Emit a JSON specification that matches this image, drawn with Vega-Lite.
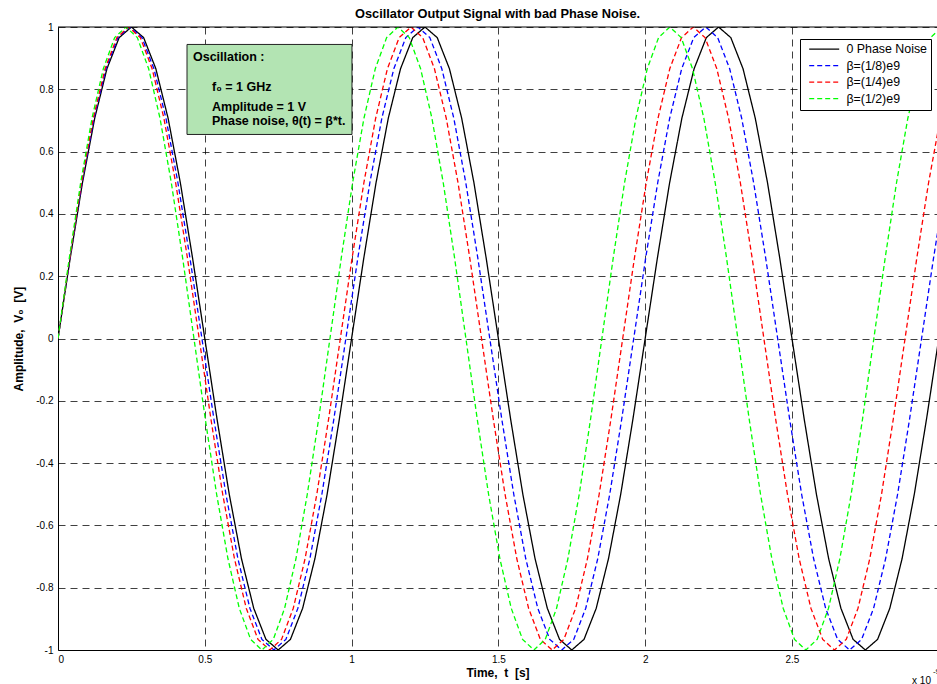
{
"$schema": "https://vega.github.io/schema/vega-lite/v6.json",
"width": 879, "height": 623,
"autosize": {"type": "none"},
"padding": {"left": 58, "top": 27, "right": 0, "bottom": 34},
"background": "white",
"title": {"text": "Oscillator Output Signal with bad Phase Noise.", "font": "Liberation Sans", "fontSize": 12.8, "fontWeight": "bold", "color": "#000", "anchor": "middle", "frame": "group", "baseline": "alphabetic", "offset": 10, "dy": 19},
"datasets": {
"curves": [
{"series":"0 Phase Noise","t":0,"v":0},{"series":"0 Phase Noise","t":0.0417,"v":0.2588},{"series":"0 Phase Noise","t":0.0833,"v":0.5},{"series":"0 Phase Noise","t":0.125,"v":0.7071},{"series":"0 Phase Noise","t":0.1667,"v":0.866},{"series":"0 Phase Noise","t":0.2083,"v":0.9659},{"series":"0 Phase Noise","t":0.25,"v":1},{"series":"0 Phase Noise","t":0.2917,"v":0.9659},{"series":"0 Phase Noise","t":0.3333,"v":0.866},{"series":"0 Phase Noise","t":0.375,"v":0.7071},{"series":"0 Phase Noise","t":0.4167,"v":0.5},{"series":"0 Phase Noise","t":0.4583,"v":0.2588},{"series":"0 Phase Noise","t":0.5,"v":0},{"series":"0 Phase Noise","t":0.5417,"v":-0.2588},{"series":"0 Phase Noise","t":0.5833,"v":-0.5},{"series":"0 Phase Noise","t":0.625,"v":-0.7071},{"series":"0 Phase Noise","t":0.6667,"v":-0.866},{"series":"0 Phase Noise","t":0.7083,"v":-0.9659},{"series":"0 Phase Noise","t":0.75,"v":-1},{"series":"0 Phase Noise","t":0.7917,"v":-0.9659},{"series":"0 Phase Noise","t":0.8333,"v":-0.866},{"series":"0 Phase Noise","t":0.875,"v":-0.7071},{"series":"0 Phase Noise","t":0.9167,"v":-0.5},{"series":"0 Phase Noise","t":0.9583,"v":-0.2588},
{"series":"0 Phase Noise","t":1,"v":0},{"series":"0 Phase Noise","t":1.0417,"v":0.2588},{"series":"0 Phase Noise","t":1.0833,"v":0.5},{"series":"0 Phase Noise","t":1.125,"v":0.7071},{"series":"0 Phase Noise","t":1.1667,"v":0.866},{"series":"0 Phase Noise","t":1.2083,"v":0.9659},{"series":"0 Phase Noise","t":1.25,"v":1},{"series":"0 Phase Noise","t":1.2917,"v":0.9659},{"series":"0 Phase Noise","t":1.3333,"v":0.866},{"series":"0 Phase Noise","t":1.375,"v":0.7071},{"series":"0 Phase Noise","t":1.4167,"v":0.5},{"series":"0 Phase Noise","t":1.4583,"v":0.2588},{"series":"0 Phase Noise","t":1.5,"v":0},{"series":"0 Phase Noise","t":1.5417,"v":-0.2588},{"series":"0 Phase Noise","t":1.5833,"v":-0.5},{"series":"0 Phase Noise","t":1.625,"v":-0.7071},{"series":"0 Phase Noise","t":1.6667,"v":-0.866},{"series":"0 Phase Noise","t":1.7083,"v":-0.9659},{"series":"0 Phase Noise","t":1.75,"v":-1},{"series":"0 Phase Noise","t":1.7917,"v":-0.9659},{"series":"0 Phase Noise","t":1.8333,"v":-0.866},{"series":"0 Phase Noise","t":1.875,"v":-0.7071},{"series":"0 Phase Noise","t":1.9167,"v":-0.5},{"series":"0 Phase Noise","t":1.9583,"v":-0.2588},
{"series":"0 Phase Noise","t":2,"v":0},{"series":"0 Phase Noise","t":2.0417,"v":0.2588},{"series":"0 Phase Noise","t":2.0833,"v":0.5},{"series":"0 Phase Noise","t":2.125,"v":0.7071},{"series":"0 Phase Noise","t":2.1667,"v":0.866},{"series":"0 Phase Noise","t":2.2083,"v":0.9659},{"series":"0 Phase Noise","t":2.25,"v":1},{"series":"0 Phase Noise","t":2.2917,"v":0.9659},{"series":"0 Phase Noise","t":2.3333,"v":0.866},{"series":"0 Phase Noise","t":2.375,"v":0.7071},{"series":"0 Phase Noise","t":2.4167,"v":0.5},{"series":"0 Phase Noise","t":2.4583,"v":0.2588},{"series":"0 Phase Noise","t":2.5,"v":0},{"series":"0 Phase Noise","t":2.5417,"v":-0.2588},{"series":"0 Phase Noise","t":2.5833,"v":-0.5},{"series":"0 Phase Noise","t":2.625,"v":-0.7071},{"series":"0 Phase Noise","t":2.6667,"v":-0.866},{"series":"0 Phase Noise","t":2.7083,"v":-0.9659},{"series":"0 Phase Noise","t":2.75,"v":-1},{"series":"0 Phase Noise","t":2.7917,"v":-0.9659},{"series":"0 Phase Noise","t":2.8333,"v":-0.866},{"series":"0 Phase Noise","t":2.875,"v":-0.7071},{"series":"0 Phase Noise","t":2.9167,"v":-0.5},{"series":"0 Phase Noise","t":2.9583,"v":-0.2588},{"series":"0 Phase Noise","t":3,"v":0},

{"series":"β=(1/8)e9","t":0,"v":0},{"series":"β=(1/8)e9","t":0.0409,"v":0.2588},{"series":"β=(1/8)e9","t":0.0817,"v":0.5},{"series":"β=(1/8)e9","t":0.1226,"v":0.7071},{"series":"β=(1/8)e9","t":0.1634,"v":0.866},{"series":"β=(1/8)e9","t":0.2043,"v":0.9659},{"series":"β=(1/8)e9","t":0.2451,"v":1},{"series":"β=(1/8)e9","t":0.286,"v":0.9659},{"series":"β=(1/8)e9","t":0.3268,"v":0.866},{"series":"β=(1/8)e9","t":0.3677,"v":0.7071},{"series":"β=(1/8)e9","t":0.4085,"v":0.5},{"series":"β=(1/8)e9","t":0.4494,"v":0.2588},{"series":"β=(1/8)e9","t":0.4902,"v":0},{"series":"β=(1/8)e9","t":0.5311,"v":-0.2588},{"series":"β=(1/8)e9","t":0.572,"v":-0.5},{"series":"β=(1/8)e9","t":0.6128,"v":-0.7071},{"series":"β=(1/8)e9","t":0.6537,"v":-0.866},{"series":"β=(1/8)e9","t":0.6945,"v":-0.9659},{"series":"β=(1/8)e9","t":0.7354,"v":-1},{"series":"β=(1/8)e9","t":0.7762,"v":-0.9659},{"series":"β=(1/8)e9","t":0.8171,"v":-0.866},{"series":"β=(1/8)e9","t":0.8579,"v":-0.7071},{"series":"β=(1/8)e9","t":0.8988,"v":-0.5},{"series":"β=(1/8)e9","t":0.9396,"v":-0.2588},
{"series":"β=(1/8)e9","t":0.9805,"v":0},{"series":"β=(1/8)e9","t":1.0213,"v":0.2588},{"series":"β=(1/8)e9","t":1.0622,"v":0.5},{"series":"β=(1/8)e9","t":1.1031,"v":0.7071},{"series":"β=(1/8)e9","t":1.1439,"v":0.866},{"series":"β=(1/8)e9","t":1.1848,"v":0.9659},{"series":"β=(1/8)e9","t":1.2256,"v":1},{"series":"β=(1/8)e9","t":1.2665,"v":0.9659},{"series":"β=(1/8)e9","t":1.3073,"v":0.866},{"series":"β=(1/8)e9","t":1.3482,"v":0.7071},{"series":"β=(1/8)e9","t":1.389,"v":0.5},{"series":"β=(1/8)e9","t":1.4299,"v":0.2588},{"series":"β=(1/8)e9","t":1.4707,"v":0},{"series":"β=(1/8)e9","t":1.5116,"v":-0.2588},{"series":"β=(1/8)e9","t":1.5524,"v":-0.5},{"series":"β=(1/8)e9","t":1.5933,"v":-0.7071},{"series":"β=(1/8)e9","t":1.6342,"v":-0.866},{"series":"β=(1/8)e9","t":1.675,"v":-0.9659},{"series":"β=(1/8)e9","t":1.7159,"v":-1},{"series":"β=(1/8)e9","t":1.7567,"v":-0.9659},{"series":"β=(1/8)e9","t":1.7976,"v":-0.866},{"series":"β=(1/8)e9","t":1.8384,"v":-0.7071},{"series":"β=(1/8)e9","t":1.8793,"v":-0.5},{"series":"β=(1/8)e9","t":1.9201,"v":-0.2588},
{"series":"β=(1/8)e9","t":1.961,"v":0},{"series":"β=(1/8)e9","t":2.0018,"v":0.2588},{"series":"β=(1/8)e9","t":2.0427,"v":0.5},{"series":"β=(1/8)e9","t":2.0835,"v":0.7071},{"series":"β=(1/8)e9","t":2.1244,"v":0.866},{"series":"β=(1/8)e9","t":2.1653,"v":0.9659},{"series":"β=(1/8)e9","t":2.2061,"v":1},{"series":"β=(1/8)e9","t":2.247,"v":0.9659},{"series":"β=(1/8)e9","t":2.2878,"v":0.866},{"series":"β=(1/8)e9","t":2.3287,"v":0.7071},{"series":"β=(1/8)e9","t":2.3695,"v":0.5},{"series":"β=(1/8)e9","t":2.4104,"v":0.2588},{"series":"β=(1/8)e9","t":2.4512,"v":0},{"series":"β=(1/8)e9","t":2.4921,"v":-0.2588},{"series":"β=(1/8)e9","t":2.5329,"v":-0.5},{"series":"β=(1/8)e9","t":2.5738,"v":-0.7071},{"series":"β=(1/8)e9","t":2.6146,"v":-0.866},{"series":"β=(1/8)e9","t":2.6555,"v":-0.9659},{"series":"β=(1/8)e9","t":2.6964,"v":-1},{"series":"β=(1/8)e9","t":2.7372,"v":-0.9659},{"series":"β=(1/8)e9","t":2.7781,"v":-0.866},{"series":"β=(1/8)e9","t":2.8189,"v":-0.7071},{"series":"β=(1/8)e9","t":2.8598,"v":-0.5},{"series":"β=(1/8)e9","t":2.9006,"v":-0.2588},{"series":"β=(1/8)e9","t":2.9415,"v":0},{"series":"β=(1/8)e9","t":2.9823,"v":0.2588},{"series":"β=(1/8)e9","t":3.0232,"v":0.5},

{"series":"β=(1/4)e9","t":0,"v":0},{"series":"β=(1/4)e9","t":0.0401,"v":0.2588},{"series":"β=(1/4)e9","t":0.0801,"v":0.5},{"series":"β=(1/4)e9","t":0.1202,"v":0.7071},{"series":"β=(1/4)e9","t":0.1603,"v":0.866},{"series":"β=(1/4)e9","t":0.2004,"v":0.9659},{"series":"β=(1/4)e9","t":0.2404,"v":1},{"series":"β=(1/4)e9","t":0.2805,"v":0.9659},{"series":"β=(1/4)e9","t":0.3206,"v":0.866},{"series":"β=(1/4)e9","t":0.3607,"v":0.7071},{"series":"β=(1/4)e9","t":0.4007,"v":0.5},{"series":"β=(1/4)e9","t":0.4408,"v":0.2588},{"series":"β=(1/4)e9","t":0.4809,"v":0},{"series":"β=(1/4)e9","t":0.5209,"v":-0.2588},{"series":"β=(1/4)e9","t":0.561,"v":-0.5},{"series":"β=(1/4)e9","t":0.6011,"v":-0.7071},{"series":"β=(1/4)e9","t":0.6412,"v":-0.866},{"series":"β=(1/4)e9","t":0.6812,"v":-0.9659},{"series":"β=(1/4)e9","t":0.7213,"v":-1},{"series":"β=(1/4)e9","t":0.7614,"v":-0.9659},{"series":"β=(1/4)e9","t":0.8014,"v":-0.866},{"series":"β=(1/4)e9","t":0.8415,"v":-0.7071},{"series":"β=(1/4)e9","t":0.8816,"v":-0.5},{"series":"β=(1/4)e9","t":0.9217,"v":-0.2588},
{"series":"β=(1/4)e9","t":0.9617,"v":0},{"series":"β=(1/4)e9","t":1.0018,"v":0.2588},{"series":"β=(1/4)e9","t":1.0419,"v":0.5},{"series":"β=(1/4)e9","t":1.082,"v":0.7071},{"series":"β=(1/4)e9","t":1.122,"v":0.866},{"series":"β=(1/4)e9","t":1.1621,"v":0.9659},{"series":"β=(1/4)e9","t":1.2022,"v":1},{"series":"β=(1/4)e9","t":1.2422,"v":0.9659},{"series":"β=(1/4)e9","t":1.2823,"v":0.866},{"series":"β=(1/4)e9","t":1.3224,"v":0.7071},{"series":"β=(1/4)e9","t":1.3625,"v":0.5},{"series":"β=(1/4)e9","t":1.4025,"v":0.2588},{"series":"β=(1/4)e9","t":1.4426,"v":0},{"series":"β=(1/4)e9","t":1.4827,"v":-0.2588},{"series":"β=(1/4)e9","t":1.5227,"v":-0.5},{"series":"β=(1/4)e9","t":1.5628,"v":-0.7071},{"series":"β=(1/4)e9","t":1.6029,"v":-0.866},{"series":"β=(1/4)e9","t":1.643,"v":-0.9659},{"series":"β=(1/4)e9","t":1.683,"v":-1},{"series":"β=(1/4)e9","t":1.7231,"v":-0.9659},{"series":"β=(1/4)e9","t":1.7632,"v":-0.866},{"series":"β=(1/4)e9","t":1.8033,"v":-0.7071},{"series":"β=(1/4)e9","t":1.8433,"v":-0.5},{"series":"β=(1/4)e9","t":1.8834,"v":-0.2588},
{"series":"β=(1/4)e9","t":1.9235,"v":0},{"series":"β=(1/4)e9","t":1.9635,"v":0.2588},{"series":"β=(1/4)e9","t":2.0036,"v":0.5},{"series":"β=(1/4)e9","t":2.0437,"v":0.7071},{"series":"β=(1/4)e9","t":2.0838,"v":0.866},{"series":"β=(1/4)e9","t":2.1238,"v":0.9659},{"series":"β=(1/4)e9","t":2.1639,"v":1},{"series":"β=(1/4)e9","t":2.204,"v":0.9659},{"series":"β=(1/4)e9","t":2.244,"v":0.866},{"series":"β=(1/4)e9","t":2.2841,"v":0.7071},{"series":"β=(1/4)e9","t":2.3242,"v":0.5},{"series":"β=(1/4)e9","t":2.3643,"v":0.2588},{"series":"β=(1/4)e9","t":2.4043,"v":0},{"series":"β=(1/4)e9","t":2.4444,"v":-0.2588},{"series":"β=(1/4)e9","t":2.4845,"v":-0.5},{"series":"β=(1/4)e9","t":2.5246,"v":-0.7071},{"series":"β=(1/4)e9","t":2.5646,"v":-0.866},{"series":"β=(1/4)e9","t":2.6047,"v":-0.9659},{"series":"β=(1/4)e9","t":2.6448,"v":-1},{"series":"β=(1/4)e9","t":2.6848,"v":-0.9659},{"series":"β=(1/4)e9","t":2.7249,"v":-0.866},{"series":"β=(1/4)e9","t":2.765,"v":-0.7071},{"series":"β=(1/4)e9","t":2.8051,"v":-0.5},{"series":"β=(1/4)e9","t":2.8451,"v":-0.2588},{"series":"β=(1/4)e9","t":2.8852,"v":0},{"series":"β=(1/4)e9","t":2.9253,"v":0.2588},{"series":"β=(1/4)e9","t":2.9653,"v":0.5},{"series":"β=(1/4)e9","t":3.0054,"v":0.7071},

{"series":"β=(1/2)e9","t":0,"v":0},{"series":"β=(1/2)e9","t":0.0386,"v":0.2588},{"series":"β=(1/2)e9","t":0.0772,"v":0.5},{"series":"β=(1/2)e9","t":0.1158,"v":0.7071},{"series":"β=(1/2)e9","t":0.1544,"v":0.866},{"series":"β=(1/2)e9","t":0.193,"v":0.9659},{"series":"β=(1/2)e9","t":0.2316,"v":1},{"series":"β=(1/2)e9","t":0.2702,"v":0.9659},{"series":"β=(1/2)e9","t":0.3088,"v":0.866},{"series":"β=(1/2)e9","t":0.3474,"v":0.7071},{"series":"β=(1/2)e9","t":0.386,"v":0.5},{"series":"β=(1/2)e9","t":0.4245,"v":0.2588},{"series":"β=(1/2)e9","t":0.4631,"v":0},{"series":"β=(1/2)e9","t":0.5017,"v":-0.2588},{"series":"β=(1/2)e9","t":0.5403,"v":-0.5},{"series":"β=(1/2)e9","t":0.5789,"v":-0.7071},{"series":"β=(1/2)e9","t":0.6175,"v":-0.866},{"series":"β=(1/2)e9","t":0.6561,"v":-0.9659},{"series":"β=(1/2)e9","t":0.6947,"v":-1},{"series":"β=(1/2)e9","t":0.7333,"v":-0.9659},{"series":"β=(1/2)e9","t":0.7719,"v":-0.866},{"series":"β=(1/2)e9","t":0.8105,"v":-0.7071},{"series":"β=(1/2)e9","t":0.8491,"v":-0.5},{"series":"β=(1/2)e9","t":0.8877,"v":-0.2588},
{"series":"β=(1/2)e9","t":0.9263,"v":0},{"series":"β=(1/2)e9","t":0.9649,"v":0.2588},{"series":"β=(1/2)e9","t":1.0035,"v":0.5},{"series":"β=(1/2)e9","t":1.0421,"v":0.7071},{"series":"β=(1/2)e9","t":1.0807,"v":0.866},{"series":"β=(1/2)e9","t":1.1193,"v":0.9659},{"series":"β=(1/2)e9","t":1.1579,"v":1},{"series":"β=(1/2)e9","t":1.1965,"v":0.9659},{"series":"β=(1/2)e9","t":1.2351,"v":0.866},{"series":"β=(1/2)e9","t":1.2736,"v":0.7071},{"series":"β=(1/2)e9","t":1.3122,"v":0.5},{"series":"β=(1/2)e9","t":1.3508,"v":0.2588},{"series":"β=(1/2)e9","t":1.3894,"v":0},{"series":"β=(1/2)e9","t":1.428,"v":-0.2588},{"series":"β=(1/2)e9","t":1.4666,"v":-0.5},{"series":"β=(1/2)e9","t":1.5052,"v":-0.7071},{"series":"β=(1/2)e9","t":1.5438,"v":-0.866},{"series":"β=(1/2)e9","t":1.5824,"v":-0.9659},{"series":"β=(1/2)e9","t":1.621,"v":-1},{"series":"β=(1/2)e9","t":1.6596,"v":-0.9659},{"series":"β=(1/2)e9","t":1.6982,"v":-0.866},{"series":"β=(1/2)e9","t":1.7368,"v":-0.7071},{"series":"β=(1/2)e9","t":1.7754,"v":-0.5},{"series":"β=(1/2)e9","t":1.814,"v":-0.2588},
{"series":"β=(1/2)e9","t":1.8526,"v":0},{"series":"β=(1/2)e9","t":1.8912,"v":0.2588},{"series":"β=(1/2)e9","t":1.9298,"v":0.5},{"series":"β=(1/2)e9","t":1.9684,"v":0.7071},{"series":"β=(1/2)e9","t":2.007,"v":0.866},{"series":"β=(1/2)e9","t":2.0456,"v":0.9659},{"series":"β=(1/2)e9","t":2.0841,"v":1},{"series":"β=(1/2)e9","t":2.1227,"v":0.9659},{"series":"β=(1/2)e9","t":2.1613,"v":0.866},{"series":"β=(1/2)e9","t":2.1999,"v":0.7071},{"series":"β=(1/2)e9","t":2.2385,"v":0.5},{"series":"β=(1/2)e9","t":2.2771,"v":0.2588},{"series":"β=(1/2)e9","t":2.3157,"v":0},{"series":"β=(1/2)e9","t":2.3543,"v":-0.2588},{"series":"β=(1/2)e9","t":2.3929,"v":-0.5},{"series":"β=(1/2)e9","t":2.4315,"v":-0.7071},{"series":"β=(1/2)e9","t":2.4701,"v":-0.866},{"series":"β=(1/2)e9","t":2.5087,"v":-0.9659},{"series":"β=(1/2)e9","t":2.5473,"v":-1},{"series":"β=(1/2)e9","t":2.5859,"v":-0.9659},{"series":"β=(1/2)e9","t":2.6245,"v":-0.866},{"series":"β=(1/2)e9","t":2.6631,"v":-0.7071},{"series":"β=(1/2)e9","t":2.7017,"v":-0.5},{"series":"β=(1/2)e9","t":2.7403,"v":-0.2588},{"series":"β=(1/2)e9","t":2.7789,"v":0},{"series":"β=(1/2)e9","t":2.8175,"v":0.2588},{"series":"β=(1/2)e9","t":2.8561,"v":0.5},{"series":"β=(1/2)e9","t":2.8947,"v":0.7071},{"series":"β=(1/2)e9","t":2.9332,"v":0.866},{"series":"β=(1/2)e9","t":2.9718,"v":0.9659},{"series":"β=(1/2)e9","t":3.0104,"v":1}
],
"box": [{"t": 0.4394, "t2": 1.0014, "v": 0.944, "v2": 0.655}],
"notes": [
{"t": 0.4598, "v": 0.9047, "label": "Oscillation :"},
{"t": 0.5245, "v": 0.8083, "label": "f₀ = 1 GHz"},
{"t": 0.5245, "v": 0.7432, "label": "Amplitude = 1 V"},
{"t": 0.5245, "v": 0.6992, "label": "Phase noise, θ(t) = β*t."}
],
"exponent": [{"t": 2.909, "v": -1.098, "label": "x 10"}],
"exponentPower": [{"t": 2.98, "v": -1.07, "label": "-9"}],
"topBorder": [{"v": 1}]
},
"layer": [
{
"data": {"name": "curves"},
"mark": {"type": "line", "strokeWidth": 1.3, "clip": true},
"encoding": {
"x": {"field": "t", "type": "quantitative", "scale": {"domain": [0, 2.994], "nice": false, "zero": false},
 "axis": {"title": "Time,\u00a0 t \u00a0[s]", "values": [0, 0.5, 1, 1.5, 2, 2.5], "labelExpr": "toString(datum.value)", "labelPadding": 4, "titlePadding": 3, "grid": true}},
"y": {"field": "v", "type": "quantitative", "scale": {"domain": [-1, 1], "nice": false, "zero": false},
 "axis": {"title": "Amplitude,\u00a0 V₀ \u00a0[V]", "values": [-1, -0.8, -0.6, -0.4, -0.2, 0, 0.2, 0.4, 0.6, 0.8, 1], "labelExpr": "toString(datum.value)", "labelPadding": 5, "titlePadding": 10, "grid": true}},
"color": {"field": "series", "type": "nominal", "scale": {"domain": ["0 Phase Noise", "β=(1/8)e9", "β=(1/4)e9", "β=(1/2)e9"], "range": ["#000000", "#0000ff", "#ff0000", "#00ff00"]}, "legend": {"title": null}},
"strokeDash": {"field": "series", "type": "nominal", "scale": {"domain": ["0 Phase Noise", "β=(1/8)e9", "β=(1/4)e9", "β=(1/2)e9"], "range": [[1, 0], [5, 3], [5, 3], [5, 3]]}, "legend": {"title": null}}
}
},
{
"data": {"name": "topBorder"},
"mark": {"type": "rule", "color": "#000", "strokeWidth": 1},
"encoding": {"y": {"field": "v", "type": "quantitative"}}
},
{
"data": {"name": "box"},
"mark": {"type": "rect", "fill": "#b3e4b3", "stroke": "#222", "strokeWidth": 1},
"encoding": {
"x": {"field": "t", "type": "quantitative"}, "x2": {"field": "t2"},
"y": {"field": "v", "type": "quantitative"}, "y2": {"field": "v2"}
}
},
{
"data": {"name": "notes"},
"mark": {"type": "text", "align": "left", "baseline": "middle", "font": "Liberation Sans", "fontSize": 12.5, "fontWeight": "bold", "color": "#000"},
"encoding": {
"x": {"field": "t", "type": "quantitative"},
"y": {"field": "v", "type": "quantitative"},
"text": {"field": "label"}
}
},
{
"data": {"name": "exponent"},
"mark": {"type": "text", "align": "left", "baseline": "middle", "font": "Liberation Sans", "fontSize": 10, "color": "#000"},
"encoding": {
"x": {"field": "t", "type": "quantitative"},
"y": {"field": "v", "type": "quantitative"},
"text": {"field": "label"}
}
},
{
"data": {"name": "exponentPower"},
"mark": {"type": "text", "align": "left", "baseline": "middle", "font": "Liberation Sans", "fontSize": 8, "color": "#000"},
"encoding": {
"x": {"field": "t", "type": "quantitative"},
"y": {"field": "v", "type": "quantitative"},
"text": {"field": "label"}
}
}
],
"config": {
"view": {"stroke": null},
"axis": {"labelFont": "Liberation Sans", "labelFontSize": 10, "labelColor": "#000", "titleFont": "Liberation Sans", "titleFontSize": 12, "titleFontWeight": "bold", "titleColor": "#000", "domainColor": "#000", "domainWidth": 1, "gridColor": "#000", "gridDash": [7, 5], "gridOpacity": 0.75, "gridWidth": 1, "ticks": false, "tickSize": 0},
"legend": {"orient": "none", "legendX": 742, "legendY": 12, "fillColor": "#ffffff", "strokeColor": "#000000", "padding": 4, "labelFont": "Liberation Sans", "labelFontSize": 12.4, "labelColor": "#000", "symbolType": "M-3,0H3", "symbolSize": 100, "symbolStrokeWidth": 1.3, "symbolOffset": 14, "labelOffset": 16, "rowPadding": 3.5, "labelExpr": "datum.label + '\u00a0'"}
}
}
